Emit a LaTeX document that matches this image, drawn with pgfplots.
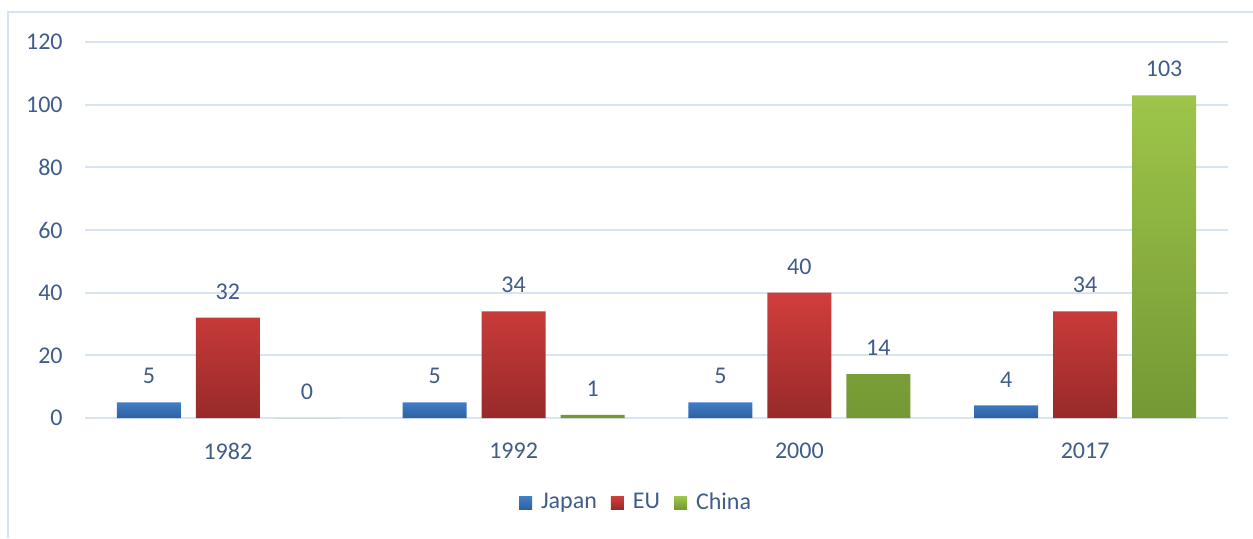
\documentclass[border=0pt]{standalone}
\usepackage{fontspec}
\setmainfont{Carlito}
\usepackage{pgfplots}
\pgfplotsset{compat=1.18}

\definecolor{txt}{RGB}{64,92,138}
\definecolor{gridc}{RGB}{217,228,242}
\definecolor{framec}{RGB}{214,227,243}
\definecolor{jpT}{RGB}{64,126,200}
\definecolor{jpB}{RGB}{46,96,160}
\definecolor{euT}{RGB}{208,62,60}
\definecolor{euB}{RGB}{152,42,41}
\definecolor{cnT}{RGB}{158,197,74}
\definecolor{cnB}{RGB}{116,152,52}

\begin{document}
\begin{tikzpicture}
\fontsize{12}{14}\selectfont
% page size, and the frame (only its left and top edges show)
\path[use as bounding box] (-42.5pt,-60pt) rectangle (584pt,209pt);
\draw[framec, line width=1.2pt] (-38.5pt,-60pt) -- (-38.5pt,203pt) -- (584pt,203pt);

\begin{axis}[
  at={(0,0)}, anchor=south west,
  scale only axis, width=571.5pt, height=188pt,
  ybar=7.5pt, bar width=32pt,
  xmin=-0.5, xmax=3.5,
  ymin=0, ymax=120,
  xtick=data, xticklabels={1982,1992,2000,2017},
  ytick={0,20,...,120},
  axis line style={draw=none},
  major tick length=0pt,
  ymajorgrids, grid style={gridc, line width=1pt},
  tick label style={font=\fontsize{12}{14}\selectfont, text=txt},
  yticklabel style={xshift=-7pt},
  xticklabel style={yshift=-8.5pt},
  /pgf/number format/assume math mode=true,
  nodes near coords,
  every node near coord/.append style={font=\fontsize{12}{14}\selectfont, text=txt, yshift=5pt},
  legend columns=-1,
  legend style={at={(0.483,-0.226)}, anchor=center, draw=none, fill=none,
    font=\fontsize{12}{14}\selectfont, text=txt,
    /tikz/every even column/.append style={column sep=5pt}},
  legend image code/.code={\fill[#1] (0pt,-3.25pt) rectangle (6.5pt,3.25pt);
    \path (9pt,0pt);},
]
\addplot[draw=none, top color=jpT, bottom color=jpB] coordinates {(0,5) (1,5) (2,5) (3,4)};
\addplot[draw=none, top color=euT, bottom color=euB] coordinates {(0,32) (1,34) (2,40) (3,34)};
\addplot[draw=none, top color=cnT, bottom color=cnB] coordinates {(0,0) (1,1) (2,14) (3,103)};
\legend{Japan,EU,China}
\end{axis}
\end{tikzpicture}
\end{document}
